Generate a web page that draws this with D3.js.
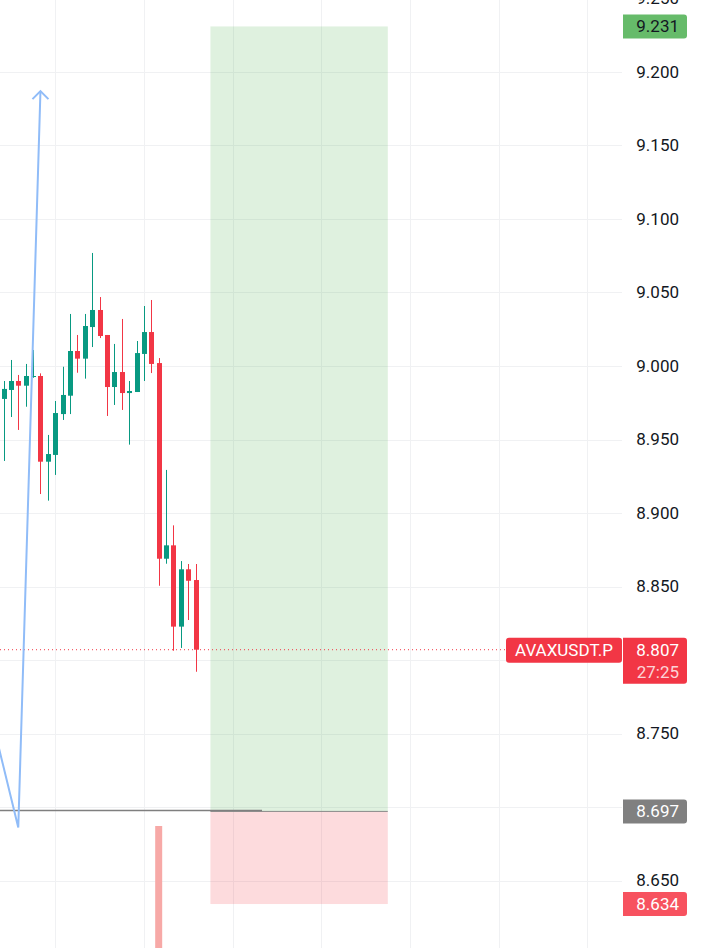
<!DOCTYPE html>
<html>
<head>
<meta charset="utf-8">
<script src="https://cdn.jsdelivr.net/npm/d3@7/dist/d3.min.js"></script>
<style>
  html, body { margin: 0; padding: 0; background: #fff; }
  svg { display: block; font-family: Roboto, "Noto Sans", sans-serif; }
</style>
</head>
<body>
<div id="chart"></div>
<script>
// AVAXUSDT.P candles, index 0 = first visible bar
const opens  = [8.9776, 8.9837, 8.9898, 8.9866, 8.9925, 8.9932, 8.9349, 8.9395, 8.9673, 8.9798, 9.0102, 9.0050, 9.0265, 9.0381, 9.0211, 8.9857, 8.9959, 8.9816, 8.9823, 9.0082, 9.0231, 9.0020, 8.8689, 8.8780, 8.8227, 8.8617, 8.8544];
const highs  = [8.9898, 9.0041, 8.9939, 9.0014, 9.0109, 8.9950, 8.9531, 8.9762, 8.9995, 9.0354, 9.0211, 9.0354, 9.0769, 9.0469, 9.0211, 9.0150, 9.0320, 8.9898, 9.0170, 9.0408, 9.0449, 9.0054, 8.9293, 8.8916, 8.8673, 8.8653, 8.8653];
const lows   = [8.9354, 8.9653, 8.9565, 8.9723, 8.9920, 8.9129, 8.9084, 8.9259, 8.9633, 8.9673, 8.9954, 8.9914, 9.0129, 9.0190, 8.9660, 8.9735, 8.9701, 8.9465, 8.9823, 8.9898, 8.9952, 8.8505, 8.8655, 8.8063, 8.8082, 8.8272, 8.7920];
const closes = [8.9844, 8.9898, 8.9866, 8.9932, 8.9932, 8.9349, 8.9401, 8.9680, 8.9803, 9.0102, 9.0050, 9.0272, 9.0381, 9.0204, 8.9857, 8.9959, 8.9816, 8.9830, 9.0088, 9.0231, 9.0014, 8.8689, 8.8780, 8.8227, 8.8617, 8.8539, 8.8070];

// single volume bar reaching into view (bar 21)
const volumeBars = [{ i: 21, v: 1 }];

// price axis ticks
const priceTicks = [9.25, 9.2, 9.15, 9.1, 9.05, 9.0, 8.95, 8.9, 8.85, 8.8, 8.75, 8.7, 8.65, 8.6];
const hiddenTicks = [8.8, 8.7]; // covered by labels
// time grid every 12 bars
const timeGrid = [7, 19, 31, 43, 55, 67, 79];

// long position tool
const position = { from: 28, to: 52, entry: 8.697, target: 9.231, stop: 8.634 };
// blue drawing
const arrowPts = [{ i: -1, p: 8.748 }, { i: 2, p: 8.686 }, { i: 5, p: 9.187 }];

const lastPrice = 8.807;
const symbol = 'AVAXUSDT.P';
const countdown = '27:25';

const width = 720, height = 948;
const plotRight = 622;
const fs = 17;

const x = d3.scaleLinear().domain([0, 79]).range([3.5, 3.5 + 79 * 7.39]);
const y = d3.scaleLinear().domain([9.0, 8.65]).range([366, 880.5]);

const svg = d3.select('#chart').append('svg')
  .attr('width', width)
  .attr('height', height);

// Grid
const grid = svg.append('g').attr('stroke', '#f0f1f3').attr('stroke-width', 1);
grid.selectAll('.h').data(priceTicks).join('line')
  .attr('x1', 0).attr('x2', plotRight)
  .attr('y1', d => Math.round(y(d)) + 0.5).attr('y2', d => Math.round(y(d)) + 0.5);
grid.selectAll('.v').data(timeGrid).join('line')
  .attr('x1', d => Math.round(x(d)) + 0.5).attr('x2', d => Math.round(x(d)) + 0.5)
  .attr('y1', 0).attr('y2', height);

// Position zones
svg.append('rect')
  .attr('x', x(position.from)).attr('width', x(position.to) - x(position.from))
  .attr('y', y(position.target)).attr('height', y(position.entry) - y(position.target))
  .attr('fill', 'rgba(76,175,80,0.18)');
svg.append('rect')
  .attr('x', x(position.from)).attr('width', x(position.to) - x(position.from))
  .attr('y', y(position.entry)).attr('height', y(position.stop) - y(position.entry))
  .attr('fill', 'rgba(242,54,69,0.18)');
svg.append('line')
  .attr('x1', x(position.from)).attr('x2', x(position.to))
  .attr('y1', y(position.entry)).attr('y2', y(position.entry))
  .attr('stroke', '#8a8a8a').attr('stroke-width', 1);
svg.append('line')
  .attr('x1', 0).attr('x2', 262)
  .attr('y1', y(position.entry) - 1).attr('y2', y(position.entry) - 1)
  .attr('stroke', '#7f7f7f').attr('stroke-width', 1.5);

// Volume
const vol = d3.scaleLinear().domain([0, 1]).range([1100, 826]);
svg.append('g').selectAll('rect').data(volumeBars).join('rect')
  .attr('x', d => x(d.i) - 3.5).attr('width', 7)
  .attr('y', d => vol(d.v)).attr('height', d => vol(0) - vol(d.v))
  .attr('fill', '#f7a9a7');

// Last price line
svg.append('line')
  .attr('x1', 0).attr('x2', 506)
  .attr('y1', y(lastPrice)).attr('y2', y(lastPrice))
  .attr('stroke', '#f23645').attr('stroke-width', 1)
  .attr('stroke-dasharray', '1,3');

// Candles
const candles = d3.range(opens.length).map(i => ({
  i, o: opens[i], h: highs[i], l: lows[i], c: closes[i]
}));
const up = '#089981', down = '#f23645';
const cg = svg.append('g');
cg.selectAll('.wick').data(candles).join('line')
  .attr('x1', d => Math.round(x(d.i)) + 0.5).attr('x2', d => Math.round(x(d.i)) + 0.5)
  .attr('y1', d => y(d.h)).attr('y2', d => y(d.l))
  .attr('stroke', d => d.c >= d.o ? up : down).attr('stroke-width', 1);
cg.selectAll('.body').data(candles).join('rect')
  .attr('x', d => Math.round(x(d.i)) - 2)
  .attr('width', 5)
  .attr('y', d => y(Math.max(d.o, d.c)))
  .attr('height', d => Math.max(1, Math.abs(y(d.o) - y(d.c))))
  .attr('fill', d => d.c >= d.o ? up : down);

// Blue arrow drawing
const line = d3.line().x(d => x(d.i)).y(d => y(d.p));
svg.append('path')
  .attr('d', line(arrowPts))
  .attr('fill', 'none')
  .attr('stroke', '#90bcf8').attr('stroke-width', 2);
const tip = arrowPts[arrowPts.length - 1];
const tx = x(tip.i), ty = y(tip.p);
svg.append('path')
  .attr('d', `M${tx - 8},${ty + 8}L${tx},${ty}L${tx + 8},${ty + 8}`)
  .attr('fill', 'none')
  .attr('stroke', '#90bcf8').attr('stroke-width', 2);

// Price axis labels
const axis = svg.append('g').attr('font-size', fs).attr('fill', '#131722').attr('text-anchor', 'end');
axis.selectAll('text').data(priceTicks.filter(d => !hiddenTicks.includes(d))).join('text')
  .attr('x', 679).attr('y', d => y(d))
  .attr('dy', '0.35em')
  .text(d => d3.format('.3f')(d));

// Axis badges
function badge(price, fill, color) {
  const cy = y(price);
  svg.append('path')
    .attr('d', `M623,${cy - 12}H684a3,3 0 0 1 3,3V${cy + 9}a3,3 0 0 1 -3,3H623Z`)
    .attr('fill', fill);
  svg.append('text')
    .attr('x', 679).attr('y', cy).attr('dy', '0.35em')
    .attr('text-anchor', 'end').attr('font-size', fs)
    .attr('fill', color)
    .text(d3.format('.3f')(price));
}
badge(position.target, '#66bb6a', '#131722');
badge(position.entry, '#808080', '#ffffff');
badge(position.stop, '#f7525f', '#ffffff');

// Last price badge with countdown
const ly = y(lastPrice);
svg.append('path')
  .attr('d', `M623,${ly - 12}H684a3,3 0 0 1 3,3V${ly + 31}a3,3 0 0 1 -3,3H623Z`)
  .attr('fill', '#f23645');
svg.append('text')
  .attr('x', 679).attr('y', ly).attr('dy', '0.35em')
  .attr('text-anchor', 'end').attr('font-size', fs).attr('fill', '#fff')
  .text(d3.format('.3f')(lastPrice));
svg.append('text')
  .attr('x', 679).attr('y', ly + 22).attr('dy', '0.35em')
  .attr('text-anchor', 'end').attr('font-size', fs).attr('fill', 'rgba(255,255,255,0.8)')
  .text(countdown);

// Symbol badge
svg.append('rect')
  .attr('x', 506).attr('y', ly - 12).attr('width', 116).attr('height', 25)
  .attr('rx', 3)
  .attr('fill', '#f23645');
svg.append('text')
  .attr('x', 564).attr('y', ly + 0.5).attr('dy', '0.35em')
  .attr('text-anchor', 'middle').attr('font-size', fs).attr('fill', '#fff')
  .text(symbol);
</script>
</body>
</html>
